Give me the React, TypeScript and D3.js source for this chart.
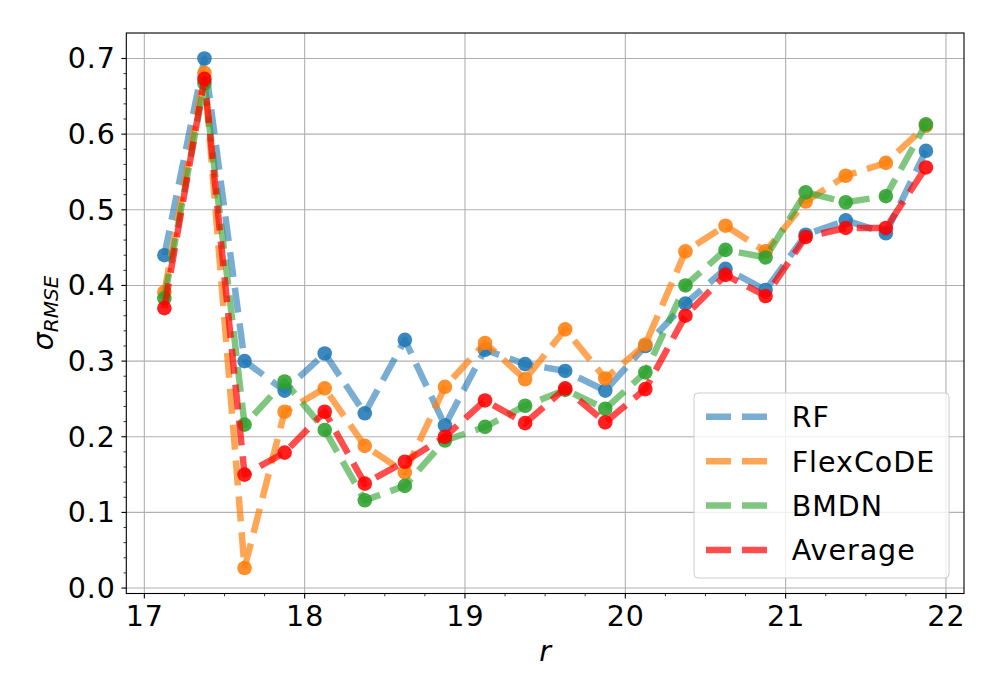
import React from "react";
import * as d3 from "d3";

// r-magnitude bins (bin centres)
const rBins = [
  17.125, 17.375, 17.625, 17.875, 18.125, 18.375, 18.625, 18.875, 19.125, 19.375,
  19.625, 19.875, 20.125, 20.375, 20.625, 20.875, 21.125, 21.375, 21.625, 21.875,
];

const rfVals = [
  0.440, 0.700, 0.300, 0.261, 0.310, 0.231, 0.328, 0.215, 0.315, 0.296,
  0.287, 0.261, 0.320, 0.376, 0.422, 0.394, 0.467, 0.486, 0.469, 0.578,
];
const flexVals = [
  0.391, 0.681, 0.0265, 0.233, 0.264, 0.188, 0.153, 0.266, 0.324, 0.276,
  0.342, 0.277, 0.322, 0.445, 0.479, 0.445, 0.511, 0.545, 0.562, 0.611,
];
const bmdnVals = [
  0.383, 0.667, 0.216, 0.273, 0.209, 0.116, 0.135, 0.195, 0.213, 0.241,
  0.262, 0.237, 0.285, 0.400, 0.447, 0.437, 0.523, 0.510, 0.518, 0.613,
];
const avgVals = [
  0.370, 0.673, 0.150, 0.179, 0.233, 0.138, 0.167, 0.200, 0.248, 0.218,
  0.264, 0.219, 0.263, 0.360, 0.414, 0.386, 0.464, 0.476, 0.476, 0.556,
];

const xTicks = [17, 18, 19, 20, 21, 22];
const yTicks = [0, 0.1, 0.2, 0.3, 0.4, 0.5, 0.6, 0.7];

const series = [
  { name: "RF", values: rfVals, color: "#1f77b4", lineAlpha: 0.6 },
  { name: "FlexCoDE", values: flexVals, color: "#ff7f0e", lineAlpha: 0.7 },
  { name: "BMDN", values: bmdnVals, color: "#2ca02c", lineAlpha: 0.6 },
  { name: "Average", values: avgVals, color: "#ff0000", lineAlpha: 0.7 },
];

const W = 1000;
const H = 700;
const left = 126.3, right = 964, top = 33, bottom = 593.5;
const FONT = "DejaVu Sans, sans-serif";
const FS = 28.5;
const LS = 1;

export default function App() {
  const x = d3.scaleLinear().domain([16.8875, 22.1125]).range([left, right]);
  const y = d3.scaleLinear().domain([-0.0072, 0.7337]).range([bottom, top]);

  const line = d3
    .line<number>()
    .x((_, i) => x(rBins[i]))
    .y((d) => y(d));

  const xMinor = d3.range(17, 22.01, 0.25).filter((v) => Math.abs(v - Math.round(v)) > 1e-6);
  const yMinor = d3.range(0, 0.72, 0.02).filter((v) => Math.abs(v * 10 - Math.round(v * 10)) > 1e-6);

  const legX = 694, legY = 393, legW = 255, legH = 185;
  const rowY = [416.7, 461.2, 505.6, 550];

  return (
    <svg
      width={W}
      height={H}
      style={{ position: "absolute", left: 0, top: 0, background: "#fff" }}
      fontFamily={FONT}
    >
      <rect x={0} y={0} width={W} height={H} fill="#fff" />
      {/* grid */}
      <g stroke="#b0b0b0" strokeWidth={1.1}>
        {xTicks.map((t) => (
          <line key={"gx" + t} x1={x(t)} x2={x(t)} y1={top} y2={bottom} />
        ))}
        {yTicks.map((t) => (
          <line key={"gy" + t} x1={left} x2={right} y1={y(t)} y2={y(t)} />
        ))}
      </g>

      {/* series */}
      <defs>
        <clipPath id="plotclip">
          <rect x={left} y={top} width={right - left} height={bottom - top} />
        </clipPath>
      </defs>
      <g clipPath="url(#plotclip)">
        {series.map((s) => (
          <g key={s.name}>
            <path
              d={line(s.values) || ""}
              fill="none"
              stroke={s.color}
              strokeOpacity={s.lineAlpha}
              strokeWidth={6.5}
              strokeDasharray="25 11"
              strokeLinejoin="round"
            />
            {s.values.map((v, i) => (
              <circle key={i} cx={x(rBins[i])} cy={y(v)} r={7.3} fill={s.color} fillOpacity={0.88} />
            ))}
          </g>
        ))}
      </g>

      {/* spines */}
      <rect x={left} y={top} width={right - left} height={bottom - top} fill="none" stroke="#000" strokeWidth={1.1} />

      {/* ticks */}
      <g stroke="#000">
        {xTicks.map((t) => (
          <line key={"xt" + t} x1={x(t)} x2={x(t)} y1={bottom} y2={bottom + 4.9} strokeWidth={1.1} />
        ))}
        {xMinor.map((t) => (
          <line key={"xm" + t} x1={x(t)} x2={x(t)} y1={bottom} y2={bottom + 2.8} strokeWidth={0.8} />
        ))}
        {yTicks.map((t) => (
          <line key={"yt" + t} x1={left - 4.9} x2={left} y1={y(t)} y2={y(t)} strokeWidth={1.1} />
        ))}
        {yMinor.map((t) => (
          <line key={"ym" + t} x1={left - 2.8} x2={left} y1={y(t)} y2={y(t)} strokeWidth={0.8} />
        ))}
      </g>
      <g fontSize={FS} fill="#000" letterSpacing={LS}>
        {xTicks.map((t) => (
          <text key={"xl" + t} x={x(t) + LS / 2} y={626} textAnchor="middle">
            {d3.format("d")(t)}
          </text>
        ))}
        {yTicks.map((t) => (
          <text key={"yl" + t} x={115 + LS} y={y(t) + 10} textAnchor="end">
            {d3.format(".1f")(t)}
          </text>
        ))}
      </g>

      {/* axis labels */}
      <text x={(left + right) / 2} y={661} textAnchor="middle" fontSize={FS} fontStyle="italic">
        r
      </text>
      <text transform="translate(53,313) rotate(-90)" textAnchor="middle" fontSize={FS}>
        <tspan fontStyle="italic">σ</tspan>
        <tspan fontStyle="italic" fontSize={20} dy={5}>
          RMSE
        </tspan>
      </text>

      {/* legend */}
      <rect
        x={legX}
        y={legY}
        width={legW}
        height={legH}
        rx={4}
        fill="#fff"
        fillOpacity={0.8}
        stroke="#cccccc"
        strokeWidth={1}
      />
      {series.map((s, i) => (
        <g key={"leg" + s.name}>
          <line
            x1={706}
            x2={768}
            y1={rowY[i]}
            y2={rowY[i]}
            stroke={s.color}
            strokeOpacity={s.lineAlpha}
            strokeWidth={6.5}
            strokeDasharray="25 11"
          />
          <text x={791.7} y={rowY[i] + 10.3} fontSize={FS} letterSpacing={LS}>
            {s.name}
          </text>
        </g>
      ))}
    </svg>
  );
}
